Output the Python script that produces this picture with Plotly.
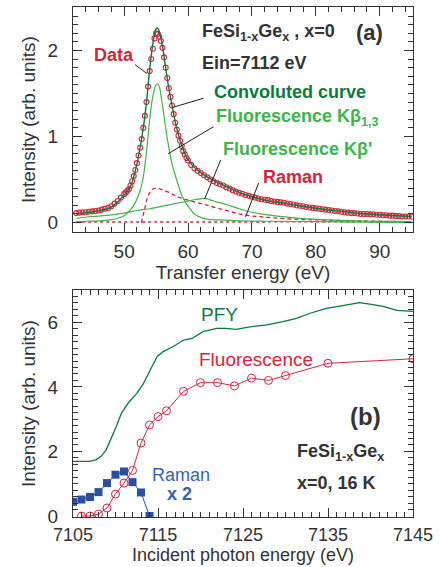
import plotly.graph_objects as go

# ---------------- Panel (a) data ----------------
data_x = [42.5, 43.0, 43.5, 44.0, 44.5, 45.0, 45.5, 46.0, 46.5, 47.0, 47.5, 48.0, 48.5, 49.0, 49.5,
          50.0, 50.25, 50.5, 50.75, 51.0, 51.25, 51.5, 51.75, 52.0, 52.25, 52.5, 52.75, 53.0, 53.25,
          53.5, 53.75, 54.0, 54.25, 54.5, 54.75, 55.0, 55.25, 55.5, 55.75, 56.0, 56.25, 56.5, 56.75,
          57.0, 57.25, 57.5, 57.75, 58.0, 58.25, 58.5, 58.75, 59.0, 59.25, 59.5, 59.75, 60.0,
          60.5, 61.0, 61.5, 62.0, 62.5, 63.0, 63.5, 64.0, 64.5, 65.0, 65.5, 66.0, 66.5, 67.0, 67.5,
          68.0, 68.5, 69.0, 69.5, 70.0, 70.5, 71.0, 71.5, 72.0, 72.5, 73.0, 73.5, 74.0, 74.5, 75.0,
          75.5, 76.0, 76.5, 77.0, 77.5, 78.0, 78.5, 79.0, 79.5, 80.0, 80.5, 81.0, 81.5, 82.0, 82.5,
          83.0, 83.5, 84.0, 84.5, 85.0, 85.5, 86.0, 86.5, 87.0, 87.5, 88.0, 88.5, 89.0, 89.5, 90.0,
          90.5, 91.0, 91.5, 92.0, 92.5, 93.0, 93.5, 94.0, 94.5, 95.0]
data_y = [0.11, 0.115, 0.12, 0.12, 0.125, 0.13, 0.135, 0.14, 0.15, 0.16, 0.17, 0.19, 0.22, 0.25, 0.29,
          0.33, 0.35, 0.37, 0.39, 0.43, 0.48, 0.54, 0.61, 0.69, 0.78, 0.87, 0.97, 1.10, 1.24,
          1.40, 1.58, 1.76, 1.90, 2.02, 2.14, 2.20, 2.19, 2.16, 2.11, 2.03, 1.92, 1.80, 1.68,
          1.56, 1.46, 1.36, 1.26, 1.16, 1.08, 1.01, 0.95, 0.89, 0.83, 0.79, 0.75, 0.72,
          0.67, 0.63, 0.60, 0.575, 0.55, 0.525, 0.50, 0.48, 0.46, 0.445, 0.43, 0.41, 0.395, 0.375, 0.36,
          0.345, 0.335, 0.32, 0.31, 0.30, 0.29, 0.28, 0.27, 0.265, 0.26, 0.25, 0.245, 0.24, 0.235, 0.23,
          0.22, 0.215, 0.21, 0.20, 0.195, 0.19, 0.18, 0.175, 0.17, 0.165, 0.16, 0.155, 0.15, 0.145, 0.14,
          0.135, 0.13, 0.125, 0.12, 0.115, 0.11, 0.11, 0.105, 0.10, 0.10, 0.10, 0.095, 0.095, 0.09, 0.09,
          0.085, 0.085, 0.08, 0.08, 0.075, 0.075, 0.07, 0.07, 0.07, 0.07]

conv_x = [42.5, 44, 46, 48, 49, 50, 51, 51.5, 52, 52.5, 53, 53.5, 54, 54.5, 55, 55.25, 55.5, 56, 56.5,
          57, 57.5, 58, 58.5, 59, 59.5, 60, 61, 62, 63, 64, 66, 68, 70, 72, 75, 78, 81, 84, 87, 90, 95]
conv_y = [0.10, 0.115, 0.135, 0.18, 0.24, 0.32, 0.42, 0.53, 0.68, 0.87, 1.10, 1.40, 1.78, 2.08, 2.25,
          2.26, 2.22, 2.05, 1.80, 1.56, 1.36, 1.17, 1.02, 0.90, 0.80, 0.73, 0.64, 0.58, 0.53, 0.49,
          0.42, 0.35, 0.30, 0.26, 0.225, 0.19, 0.155, 0.13, 0.105, 0.09, 0.07]

kb13_x = [42.5, 44, 46, 48, 49, 50, 50.5, 51, 51.5, 52, 52.5, 53, 53.5, 54, 54.5, 55, 55.25, 55.5, 56,
          56.5, 57, 57.5, 58, 58.5, 59, 59.5, 60, 61, 62, 63, 65, 68, 72, 80, 95]
kb13_y = [0.01, 0.015, 0.02, 0.035, 0.05, 0.08, 0.11, 0.15, 0.20, 0.27, 0.37, 0.53, 0.82, 1.20, 1.47,
          1.60, 1.61, 1.58, 1.36, 1.10, 0.87, 0.68, 0.55, 0.43, 0.32, 0.25, 0.19, 0.10, 0.06, 0.04,
          0.03, 0.02, 0.015, 0.01, 0.0]

kbp_x = [42.5, 45, 48, 50, 52, 54, 56, 58, 60, 61, 62, 62.5, 63, 64, 66, 68, 70, 72, 74, 78, 82, 86, 90, 95]
kbp_y = [0.05, 0.07, 0.09, 0.11, 0.14, 0.16, 0.19, 0.22, 0.25, 0.265, 0.275, 0.28, 0.275, 0.25, 0.21,
         0.16, 0.12, 0.095, 0.075, 0.045, 0.03, 0.02, 0.015, 0.01]

raman_a_x = [52.7, 53.0, 53.3, 53.6, 54.0, 54.5, 55.0, 55.5, 56, 57, 58, 59, 60, 62, 63, 64, 66, 68, 70,
             72, 75, 78, 82, 86, 90, 95]
raman_a_y = [0.0, 0.10, 0.20, 0.28, 0.35, 0.39, 0.40, 0.395, 0.38, 0.35, 0.31, 0.28, 0.26, 0.22, 0.20,
             0.18, 0.135, 0.10, 0.075, 0.06, 0.045, 0.035, 0.025, 0.02, 0.015, 0.01]

base_x = [42.5, 95.0]
base_y = [0.005, 0.01]

# ---------------- Panel (b) data ----------------
pfy_x = [7105, 7106.9, 7107.7, 7108.3, 7108.9, 7109.5, 7110.1, 7110.7, 7111.5, 7112.5, 7113.3, 7114.1,
         7114.9, 7115.6, 7116.8, 7118, 7119, 7120.3, 7121.9, 7123, 7124.2, 7125.8, 7127.8, 7129.7,
         7131.3, 7132.9, 7134.8, 7136.4, 7138, 7138.7, 7139.9, 7141.5, 7143.1, 7145]
pfy_y = [1.69, 1.69, 1.74, 1.85, 2.05, 2.41, 2.77, 3.19, 3.50, 3.80, 4.11, 4.53, 4.94, 5.09, 5.25,
         5.45, 5.50, 5.71, 5.81, 5.81, 5.78, 5.86, 5.92, 6.02, 6.12, 6.28, 6.43, 6.50, 6.59, 6.61,
         6.56, 6.49, 6.37, 6.34]

fluo_x = [7106, 7107, 7108, 7109, 7110, 7111, 7112, 7113, 7114, 7115, 7116, 7118, 7120, 7122, 7124,
          7126, 7128, 7130, 7135, 7145]
fluo_y = [0.0, 0.0, 0.06, 0.25, 0.68, 1.02, 1.41, 2.26, 2.82, 3.08, 3.26, 3.86, 4.13, 4.13, 4.03,
          4.27, 4.20, 4.35, 4.73, 4.87]

raman_b_x = [7105, 7106, 7107, 7108, 7109, 7110, 7111, 7112, 7113, 7114]
raman_b_y = [0.44, 0.51, 0.59, 0.74, 1.02, 1.28, 1.38, 1.05, 0.73, 0.0]

# ---------------- styles ----------------
FONT = "Liberation Sans, Arial, Helvetica, sans-serif"
TXT = "#333333"
RED = "#d9233c"
DKGREEN = "#0b7a3e"
LTGREEN = "#3db54a"
BLUE = "#2b4f9e"
BLUE_T = "#3a5fb3"

fig = go.Figure()

fig.add_trace(go.Scatter(x=base_x, y=base_y, mode="lines", line=dict(color=RED, width=1.5, dash="dot"),
                         xaxis="x", yaxis="y"))
fig.add_trace(go.Scatter(x=raman_a_x, y=raman_a_y, mode="lines", line=dict(color=RED, width=1.3, dash="4px,3px"),
                         xaxis="x", yaxis="y"))
fig.add_trace(go.Scatter(x=kbp_x, y=kbp_y, mode="lines", line=dict(color=LTGREEN, width=1.2, shape="spline"),
                         xaxis="x", yaxis="y"))
fig.add_trace(go.Scatter(x=kb13_x, y=kb13_y, mode="lines", line=dict(color=LTGREEN, width=1.2, shape="spline"),
                         xaxis="x", yaxis="y"))
fig.add_trace(go.Scatter(x=data_x, y=data_y, mode="markers",
                         marker=dict(symbol="circle-open", size=5, color=RED, line=dict(width=1.1, color=RED)),
                         xaxis="x", yaxis="y"))
fig.add_trace(go.Scatter(x=conv_x, y=conv_y, mode="lines", line=dict(color=DKGREEN, width=1.4, shape="spline"),
                         xaxis="x", yaxis="y"))

fig.add_trace(go.Scatter(x=pfy_x, y=pfy_y, mode="lines", line=dict(color=DKGREEN, width=1.3),
                         xaxis="x2", yaxis="y2"))
fig.add_trace(go.Scatter(x=raman_b_x, y=raman_b_y, mode="lines+markers", line=dict(color=BLUE, width=1),
                         marker=dict(symbol="square", size=8, color=BLUE),
                         xaxis="x2", yaxis="y2"))
fig.add_trace(go.Scatter(x=fluo_x, y=fluo_y, mode="lines+markers", line=dict(color=RED, width=1),
                         marker=dict(symbol="circle-open", size=8, color=RED, line=dict(width=1, color=RED)),
                         xaxis="x2", yaxis="y2"))

axis_common = dict(showline=True, linecolor="#333", linewidth=1.3, mirror="allticks", ticks="inside",
                   tickcolor="#333", tickwidth=1.1, ticklen=9, showgrid=False, zeroline=False,
                   automargin=False)
TF19 = dict(family=FONT, size=19, color=TXT)
TF18 = dict(family=FONT, size=18, color=TXT)

fig.update_layout(
    width=440, height=567, margin=dict(l=73, r=27, t=7, b=50, autoexpand=False),
    paper_bgcolor="white", plot_bgcolor="white", showlegend=False,
    xaxis=dict(**axis_common, domain=[0, 1], anchor="y", range=[42, 95.2], tickfont=TF19,
               tickvals=[50, 60, 70, 80, 90], ticklabelstandoff=2,
               minor=dict(dtick=2, tick0=42, ticks="inside", ticklen=5, tickcolor="#333", tickwidth=1),
               title=dict(text="Transfer energy (eV)", font=TF19, standoff=2)),
    yaxis=dict(**axis_common, domain=[0.5588, 1.0], anchor="x", range=[-0.11, 2.505], tickfont=TF19,
               tickvals=[0, 1, 2], ticklabelstandoff=10,
               minor=dict(dtick=0.1, tick0=0, ticks="inside", ticklen=5, tickcolor="#333", tickwidth=1),
               title=dict(text="Intensity (arb. units)", font=TF19, standoff=6)),
    xaxis2=dict(**axis_common, domain=[0, 1], anchor="y2", range=[7105, 7145], tickfont=TF18,
                tickvals=[7105, 7115, 7125, 7135, 7145], ticklabelstandoff=1,
                minor=dict(dtick=1, tick0=7105, ticks="inside", ticklen=5, tickcolor="#333", tickwidth=1),
                title=dict(text="Incident photon energy (eV)", font=TF18, standoff=2)),
    yaxis2=dict(**axis_common, domain=[0, 0.4451], anchor="x2", range=[-0.03, 7.0], tickfont=TF19,
                tickvals=[0, 2, 4, 6], ticklabelstandoff=10,
                minor=dict(dtick=0.2, tick0=0, ticks="inside", ticklen=5, tickcolor="#333", tickwidth=1),
                title=dict(text="Intensity (arb. units)", font=TF19, standoff=6)),
)

def txt(x, y, text, color, size=18, bold=True, xa="left", xref="x", yref="y"):
    t = f"<b>{text}</b>" if bold else text
    fig.add_annotation(x=x, y=y, xref=xref, yref=yref, text=t, showarrow=False, xanchor=xa, yanchor="middle",
                       font=dict(family=FONT, size=size, color=color))

def leader(x0, y0, x1, y1):
    fig.add_shape(type="line", xref="x", yref="y", x0=x0, y0=y0, x1=x1, y1=y1,
                  line=dict(color="#222", width=1))

# panel (a) labels
txt(61.8, 2.21, "FeSi<sub>1-x</sub>Ge<sub>x</sub> , x=0", TXT, 18)
txt(90.8, 2.21, "(a)", TXT, 22, xa="right")
txt(61.8, 1.86, "Ein=7112 eV", TXT, 18)
txt(44.9, 1.95, "Data", RED, 18)
txt(63.7, 1.52, "Convoluted curve", DKGREEN, 18)
txt(64.0, 1.22, "Fluorescence Kβ<sub>1,3</sub>", LTGREEN, 18)
txt(65.1, 0.85, "Fluorescence Kβ'", LTGREEN, 18)
txt(71.4, 0.53, "Raman", RED, 18)

leader(51.71, 1.835, 53.6, 1.73)
leader(62.42, 1.445, 57.7, 1.34)
leader(63.99, 1.114, 56.9, 0.80)
leader(65.12, 0.728, 62.6, 0.275)
leader(71.05, 0.461, 69.0, 0.066)

# panel (b) labels
txt(7119.8, 6.23, "PFY", DKGREEN, 19, bold=False, xref="x2", yref="y2")
txt(7119.6, 4.84, "Fluorescence", RED, 19, bold=False, xref="x2", yref="y2")
txt(7141.5, 3.07, "(b)", TXT, 24, xa="right", xref="x2", yref="y2")
txt(7131.1, 1.96, "FeSi<sub>1-x</sub>Ge<sub>x</sub>", TXT, 18, xref="x2", yref="y2")
txt(7131.1, 1.03, "x=0, 16 K", TXT, 18, xref="x2", yref="y2")
txt(7114.1, 1.26, "Raman", BLUE_T, 18, bold=False, xref="x2", yref="y2")
txt(7115.8, 0.68, "x 2", BLUE_T, 18, xref="x2", yref="y2")

fig.write_html("out.html")
